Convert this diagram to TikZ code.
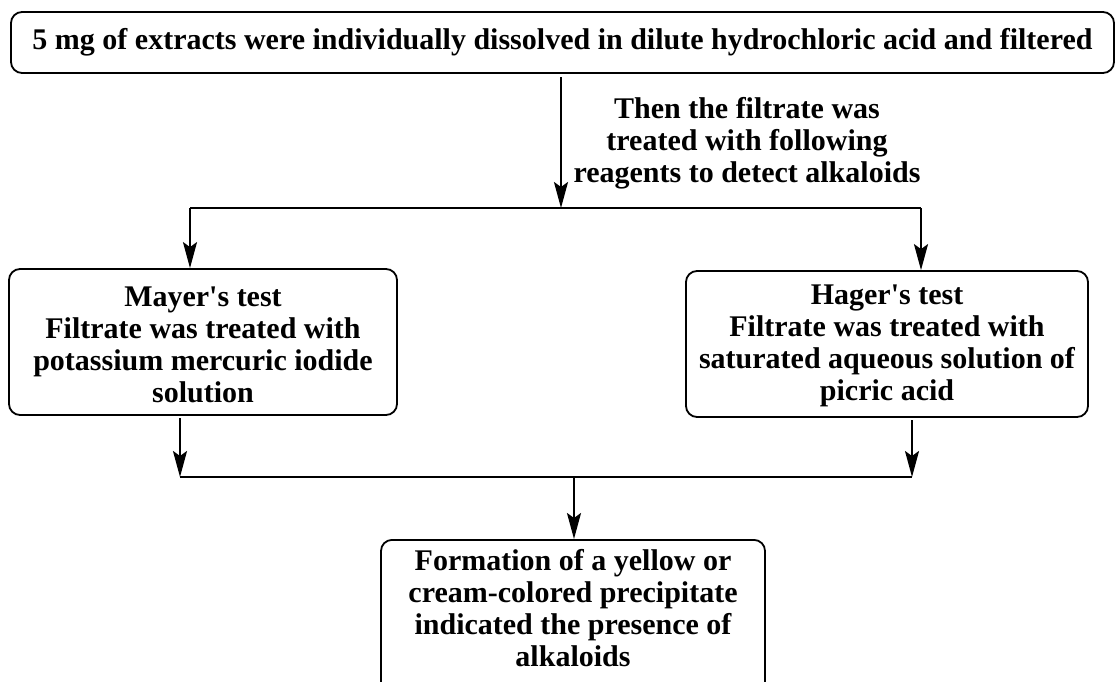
\documentclass[tikz,border=0pt]{standalone}
\usepackage{fontspec}
\setmainfont{Liberation Serif}
\newfontfamily\plainserif{Liberation Serif}[Ligatures=ResetAll]
\usetikzlibrary{arrows.meta}
\newcommand{\apo}{{\plainserif\bfseries '}}
\begin{document}
\begin{tikzpicture}[x=1pt,y=-1pt,
  box/.style={draw, line width=1.8pt, rounded corners=11pt, align=center, inner sep=0pt,
    font=\bfseries\fontsize{30}{32}\selectfont},
  lbl/.style={align=center, inner sep=0pt, font=\bfseries\fontsize{30}{32}\selectfont},
  conn/.style={line width=2.2pt},
  arr/.style={line width=2.2pt, -{Stealth[length=26pt,width=14pt,inset=5pt]}}]
\clip (0,0) rectangle (1116,681);
\useasboundingbox (0,0) rectangle (1116,681);
\node[box, minimum width=1103pt, minimum height=61pt] (top) at (562.5,42.5)
  {5 mg of extracts were individually dissolved in dilute hydrochloric acid and filtered};
\node[lbl] (lab) at (747,143) {Then the filtrate was\\treated with following\\reagents to detect alkaloids};
\node[box, minimum width=388pt, minimum height=146pt] (mayer) at (203,342)
  {\rule{0pt}{0pt}};
\node[lbl] (mayertext) at (203,345)
  {Mayer\apo s test\\Filtrate was treated with\\potassium mercuric iodide\\solution};
\node[box, minimum width=402pt, minimum height=146pt] (hager) at (887,344)
  {\rule{0pt}{0pt}};
\node[lbl] (hagertext) at (887,346)
  {Hager\apo s test\\Filtrate was treated with\\saturated aqueous solution of\\picric acid};
\node[box, minimum width=384pt, minimum height=160pt, anchor=north] (res) at (573,539)
  {\rule{0pt}{0pt}};
\node[lbl, anchor=north] (restext) at (573,549)
  {Formation of a yellow or\\cream-colored precipitate\\indicated the presence of\\alkaloids};
\coordinate (t0) at (561,77);
\coordinate (j1) at (561,208);
\coordinate (l1) at (190,208);
\coordinate (r1) at (921,208);
\coordinate (l0) at (180,418);
\coordinate (l2) at (180,477);
\coordinate (r0) at (912,420);
\coordinate (r2) at (912,477);
\coordinate (j2) at (574,477);
\draw[arr] (t0) -- (j1);
\draw[conn] (l1) -- (r1);
\draw[arr] (l1) -- (l1 |- mayer.north);
\draw[arr] (r1) -- (r1 |- hager.north);
\draw[arr] (l0) -- (l2);
\draw[arr] (r0) -- (r2);
\draw[conn] (l2) -- (r2);
\draw[arr] (j2) -- (j2 |- res.north);
\end{tikzpicture}
\end{document}
